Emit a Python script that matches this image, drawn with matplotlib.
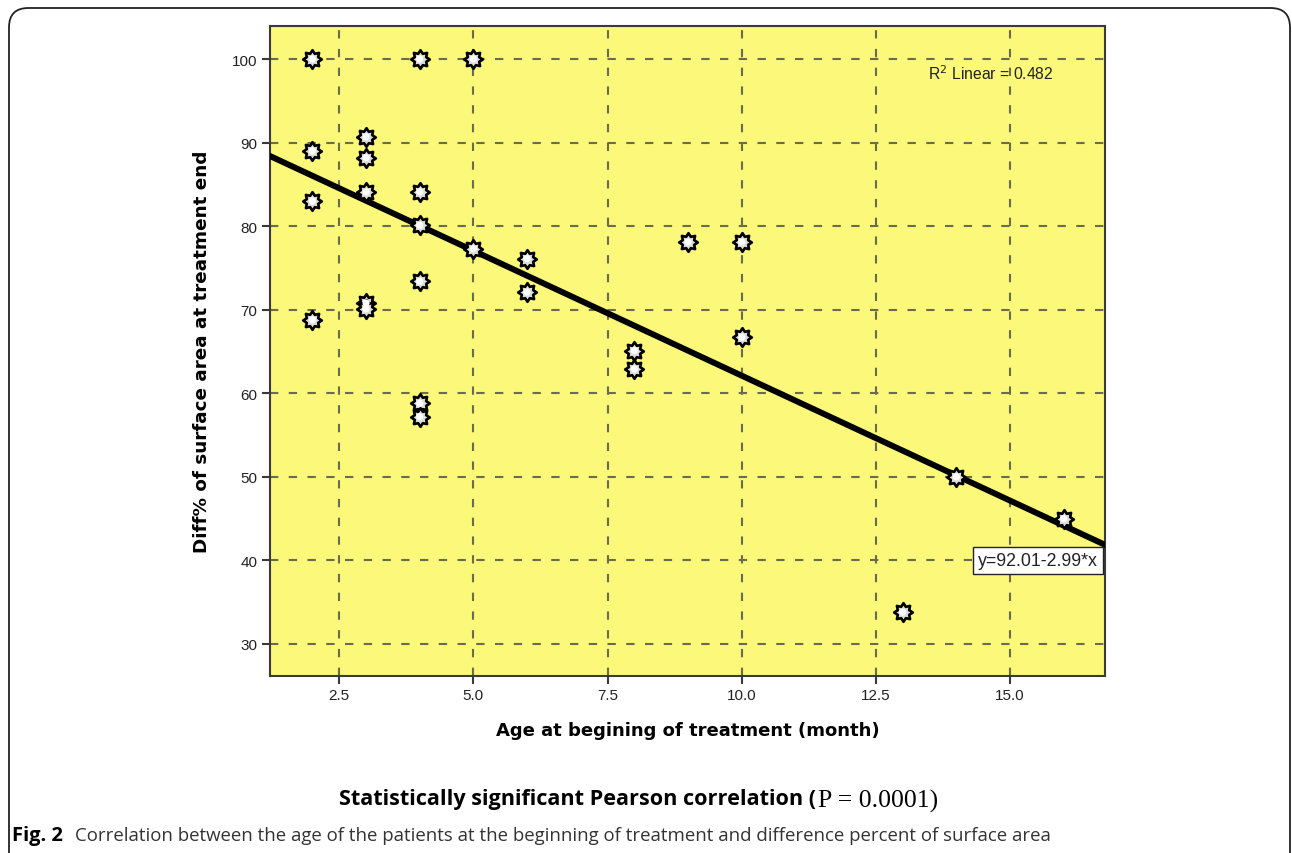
import matplotlib
matplotlib.use("Agg")
import matplotlib.pyplot as plt
import numpy as np
from matplotlib.path import Path
from matplotlib.patches import FancyBboxPatch

# ---- data ----
age_months = [2, 2, 2, 2, 3, 3, 3, 3, 3, 4, 4, 4, 4, 4, 4, 5, 5, 6, 6, 8, 8, 9, 10, 10, 13, 14, 16]
diff_pct = [100, 89, 83, 68.8, 90.7, 88.2, 84.1, 70.8, 70.1, 100, 84.1, 80.1, 73.4, 58.8, 57.2,
            100, 77.3, 76.1, 72.1, 65.1, 62.9, 78.1, 78.1, 66.7, 33.8, 50, 45]
fit_intercept = 92.01
fit_slope = -2.99
r2_linear = 0.482
x_ticks = [2.5, 5.0, 7.5, 10.0, 12.5, 15.0]
y_ticks = [30, 40, 50, 60, 70, 80, 90, 100]

W, H = 1292, 854
fig = plt.figure(figsize=(W / 100, H / 100), dpi=100)
fig.patch.set_facecolor("white")

# outer rounded frame
frame = FancyBboxPatch((9 / W, -0.05), (1290 - 9) / W, (H - 9) / H + 0.05,
                       boxstyle="round,pad=0,rounding_size=0.015",
                       transform=fig.transFigure, fill=False, edgecolor="#222222",
                       linewidth=1.3, clip_on=False, mutation_aspect=W / H)
fig.add_artist(frame)

ax = fig.add_axes([270 / W, 177 / H, (1105 - 270) / W, (677 - 27) / H])
ax.set_facecolor("#FBF87A")
ax.set_xlim(1.21, 16.77)
ax.set_ylim(26.17, 103.95)
ax.set_xticks(x_ticks)
ax.set_xticklabels([f"{t:.1f}" for t in x_ticks])
ax.set_yticks(y_ticks)
ax.grid(True, linestyle=(0, (4, 5)), color="#6b6b50", linewidth=1.5)
ax.set_axisbelow(True)
for s in ax.spines.values():
    s.set_color("#3a3a3a")
    s.set_linewidth(1.5)
ax.tick_params(direction="out", length=6, width=1.5, color="#3a3a3a",
               labelsize=11, labelcolor="#222222", pad=3)
for lab in ax.get_xticklabels() + ax.get_yticklabels():
    lab.set_family("Liberation Sans")

# regression line
xl = np.array(ax.get_xlim())
ax.plot(xl, fit_intercept + fit_slope * xl, color="black", linewidth=4.3, zorder=3)

# sunburst marker
star = Path.unit_regular_star(8, 0.66)
ax.scatter(age_months, diff_pct, marker=star, s=180, facecolor="#dddddd",
           edgecolor="black", linewidth=1.9, zorder=4)
ax.scatter(age_months, diff_pct, marker="o", s=26, facecolor="white",
           edgecolor="none", zorder=5)

ax.text(14.65, 98.4, r"R$^2$ Linear = " + f"{r2_linear:.3f}", ha="center", va="center",
        fontsize=11.3, family="Liberation Sans", color="#222222", zorder=6)
ax.text(14.40, 40, f"y={fit_intercept:.2f}-{abs(fit_slope):.2f}*x", ha="left", va="center",
        fontsize=12.8, family="Liberation Sans", color="#222222", zorder=6,
        bbox=dict(boxstyle="square,pad=0.28", facecolor="white", edgecolor="#222222", linewidth=1))

ax.set_xlabel("Age at begining of treatment (month)", fontsize=13, fontweight="bold",
              family="DejaVu Sans", labelpad=13)
ax.set_ylabel("Diff% of surface area at treatment end", fontsize=13.2, fontweight="bold",
              family="DejaVu Sans", labelpad=15)

# captions
fig.text(816 / W, 1 - 800 / H, "Statistically significant Pearson correlation (",
         ha="right", va="center", fontsize=15.6, fontweight="bold", family="Open Sans")
fig.text(818 / W, 1 - 801 / H, "P = 0.0001)", ha="left", va="center", fontsize=18.5,
         family="Liberation Serif")
fig.text(12 / W, 1 - 836 / H, "Fig. 2", ha="left", va="center", fontsize=14.5,
         fontweight="bold", family="Open Sans")
fig.text(75 / W, 1 - 836 / H,
         "Correlation between the age of the patients at the beginning of treatment and difference percent of surface area",
         ha="left", va="center", fontsize=13.4, family="Open Sans",
         color="#333333")

fig.savefig("out.png", dpi=100)
